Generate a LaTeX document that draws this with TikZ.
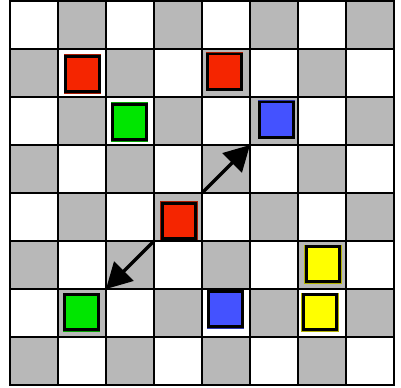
\documentclass[tikz,border=0pt]{standalone}
\usepackage{xcolor}
\usepackage{tikz}
\usetikzlibrary{arrows.meta}

\definecolor{boardgray}{RGB}{184,184,184}
\definecolor{pred}{RGB}{245,37,0}
\definecolor{pgreen}{RGB}{0,230,0}
\definecolor{pblue}{RGB}{68,82,255}
\definecolor{pyellow}{RGB}{255,255,0}

\begin{document}
\begin{tikzpicture}[
    cell/.style={draw=black, line width=1.7pt, minimum size=1cm, inner sep=0pt, outer sep=0pt},
    piece/.style={draw=black, line width=1.7pt, minimum width=0.70cm, minimum height=0.73cm,
                  inner sep=0pt, fill=#1, preaction={draw=#1!70!black, line width=2.4pt}},
    arr/.style={-{Triangle[length=15pt, width=16pt]}, line width=1.9pt},
]
\useasboundingbox (-0.208,-0.042) rectangle (8.146,8.021);

% board
\foreach \x in {0,...,7}
  \foreach \y in {0,...,7} {
    \pgfmathtruncatemacro{\shade}{mod(\x+\y,2)}
    \ifnum\shade=0
      \node[cell, fill=boardgray] (sq-\x-\y) at (\x+0.5,\y+0.5) {};
    \else
      \node[cell, fill=white] (sq-\x-\y) at (\x+0.5,\y+0.5) {};
    \fi
  }

% pieces
\node[piece=pred] (red1) at (1.51,6.48) {};
\node[piece=pred] (red2) at (4.47,6.53) {};
\node[piece=pgreen] (green1) at (2.49,5.48) {};
\node[piece=pblue] (blue1) at (5.55,5.53) {};
\node[piece=pred] (red3) at (3.52,3.42) {};
\node[piece=pyellow] (yellow1) at (6.52,2.52) {};
\node[piece=pgreen] (green2) at (1.49,1.52) {};
\node[piece=pblue] (blue2) at (4.49,1.58) {};
\node[piece=pyellow] (yellow2) at (6.46,1.52) {};

% moves
\draw[arr] (sq-3-3.north east) -- (sq-4-4.north east);
\draw[arr] (sq-2-2.north east) -- (sq-1-1.north east);
\end{tikzpicture}
\end{document}
